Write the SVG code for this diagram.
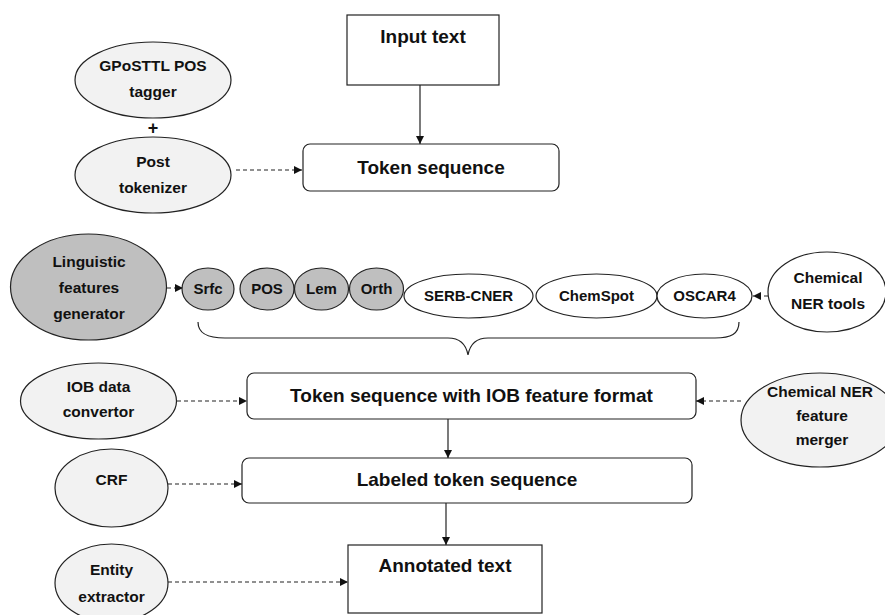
<svg xmlns="http://www.w3.org/2000/svg" width="885" height="615" viewBox="0 0 885 615">
<defs>
<marker id="ah" markerUnits="userSpaceOnUse" markerWidth="9" markerHeight="9" refX="8" refY="4" orient="auto">
<path d="M0,0 L8,4 L0,8 z" fill="#111"/>
</marker>
<style>
text{font-family:"Liberation Sans",Arial,sans-serif;font-weight:bold;fill:#111;text-anchor:middle}
.t{font-size:19px}
.e{font-size:15.5px}
.s{font-size:15px}
.p{font-size:18px}
.box{fill:#fff;stroke:#222;stroke-width:1.2}
.dk{fill:#bfbfbf;stroke:#222;stroke-width:1.2}
.lt{fill:#f2f2f2;stroke:#222;stroke-width:1.2}
.wh{fill:#fff;stroke:#222;stroke-width:1.2}
.c{stroke:#222;stroke-width:1.2;fill:none}
.d{stroke-dasharray:4 3}
</style>
</defs>
<rect width="885" height="615" fill="#fff"/>

<g id="connectors">
<line class="c" x1="420" y1="85" x2="420" y2="144" marker-end="url(#ah)"/>
<line class="c d" x1="236" y1="170" x2="302" y2="170" marker-end="url(#ah)"/>
<line class="c d" x1="167" y1="288" x2="183" y2="288" marker-end="url(#ah)"/>
<line class="c d" x1="768" y1="296" x2="753" y2="296" marker-end="url(#ah)"/>
<path class="c" d="M198,322 C198,334 208,338 225,338 L448,338 C460,338 466,344 468,355 C470,344 476,338 488,338 L715,338 C731,338 739,334 739,322"/>
<line class="c d" x1="177" y1="401" x2="247" y2="401" marker-end="url(#ah)"/>
<line class="c d" x1="741" y1="401" x2="696" y2="401" marker-end="url(#ah)"/>
<line class="c" x1="448" y1="419" x2="448" y2="458" marker-end="url(#ah)"/>
<line class="c d" x1="168" y1="484" x2="242" y2="484" marker-end="url(#ah)"/>
<line class="c" x1="446" y1="503" x2="446" y2="545" marker-end="url(#ah)"/>
<line class="c d" x1="168" y1="582" x2="348" y2="582" marker-end="url(#ah)"/>
</g>

<g id="input-text">
<rect class="box" x="347" y="15" width="152" height="70"/>
<text class="t" x="423" y="43">Input text</text>
</g>

<g id="token-sequence">
<rect class="box" x="303" y="144" width="256" height="47" rx="7"/>
<text class="t" x="431" y="174">Token sequence</text>
</g>

<g id="gposttl">
<ellipse class="lt" cx="153" cy="80" rx="78" ry="38"/>
<text class="e" x="153" y="71">GPoSTTL POS</text>
<text class="e" x="153" y="97">tagger</text>
</g>

<g id="plus">
<text class="p" x="153" y="134">+</text>
</g>

<g id="post-tokenizer">
<ellipse class="lt" cx="153" cy="175" rx="78" ry="38"/>
<text class="e" x="153" y="167">Post</text>
<text class="e" x="153" y="193">tokenizer</text>
</g>

<g id="linguistic">
<ellipse class="dk" cx="88.5" cy="287" rx="78" ry="53"/>
<text class="e" x="89" y="267">Linguistic</text>
<text class="e" x="89" y="293">features</text>
<text class="e" x="89" y="319">generator</text>
</g>

<g id="srfc">
<ellipse class="dk" cx="208" cy="289" rx="26" ry="21"/>
<text class="s" x="208" y="294">Srfc</text>
</g>
<g id="pos">
<ellipse class="dk" cx="267" cy="289" rx="27" ry="21"/>
<text class="s" x="267" y="294">POS</text>
</g>
<g id="lem">
<ellipse class="dk" cx="321.5" cy="289" rx="27" ry="21"/>
<text class="s" x="321.5" y="294">Lem</text>
</g>
<g id="orth">
<ellipse class="dk" cx="376.5" cy="289" rx="27" ry="21"/>
<text class="s" x="376.5" y="294">Orth</text>
</g>
<g id="serb-cner">
<ellipse class="wh" cx="468.5" cy="296" rx="64.5" ry="22"/>
<text class="s" x="468.5" y="301">SERB-CNER</text>
</g>
<g id="chemspot">
<ellipse class="wh" cx="596.5" cy="296" rx="60.5" ry="22"/>
<text class="s" x="596.5" y="301">ChemSpot</text>
</g>
<g id="oscar4">
<ellipse class="wh" cx="704.5" cy="296" rx="47.5" ry="22"/>
<text class="s" x="704.5" y="301">OSCAR4</text>
</g>

<g id="chem-ner-tools">
<ellipse class="wh" cx="827" cy="292" rx="59" ry="40"/>
<text class="e" x="828" y="283">Chemical</text>
<text class="e" x="828" y="309">NER tools</text>
</g>

<g id="iob-convertor">
<ellipse class="lt" cx="98.5" cy="401" rx="78" ry="38"/>
<text class="e" x="98.5" y="392">IOB data</text>
<text class="e" x="98.5" y="417">convertor</text>
</g>

<g id="iob-sequence">
<rect class="box" x="247" y="373" width="449" height="46" rx="7"/>
<text class="t" x="471.5" y="402">Token sequence with IOB feature format</text>
</g>

<g id="merger">
<ellipse class="lt" cx="820" cy="420" rx="79" ry="47"/>
<text class="e" x="820" y="397">Chemical NER</text>
<text class="e" x="822" y="421">feature</text>
<text class="e" x="822" y="445">merger</text>
</g>

<g id="crf">
<ellipse class="lt" cx="111.5" cy="488" rx="56.5" ry="39"/>
<text class="e" x="111.5" y="485">CRF</text>
</g>

<g id="labeled">
<rect class="box" x="242" y="458" width="450" height="45" rx="7"/>
<text class="t" x="467" y="486">Labeled token sequence</text>
</g>

<g id="entity-extractor">
<ellipse class="lt" cx="111.5" cy="583" rx="56.5" ry="39"/>
<text class="e" x="111.5" y="575">Entity</text>
<text class="e" x="111.5" y="602">extractor</text>
</g>

<g id="annotated">
<rect class="box" x="348" y="545" width="194" height="68"/>
<text class="t" x="445" y="572">Annotated text</text>
</g>
</svg>
